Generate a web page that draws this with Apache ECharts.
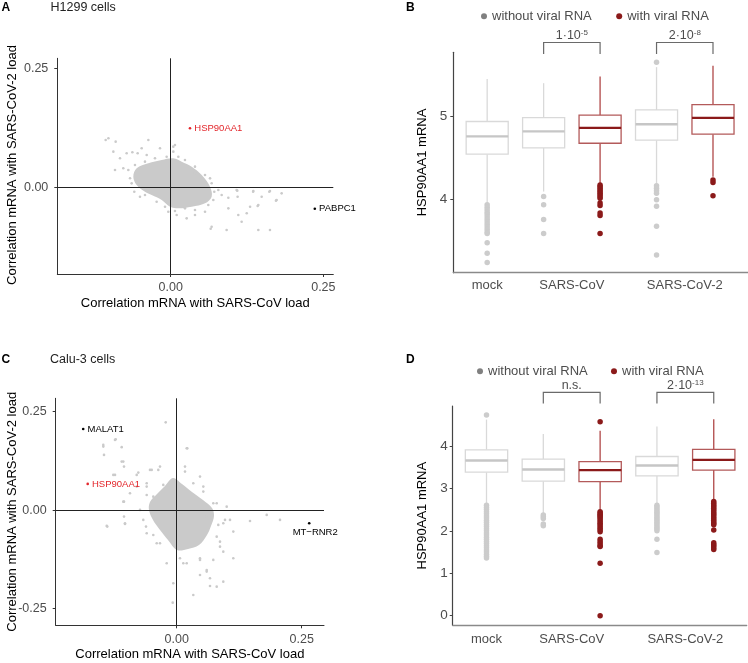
<!DOCTYPE html>
<html><head><meta charset="utf-8">
<script src="https://cdn.jsdelivr.net/npm/echarts@6/dist/echarts.min.js"></script>
<style>html,body{margin:0;padding:0;background:#fff}#c{width:748px;height:663px}</style>
</head><body><div id="c"></div>
<script>
// ---------- Panel A: H1299 scatter ----------
const titleA = 'H1299 cells';
const coreA = [[-0.0557,0.0399],[-0.0367,0.0504],[-0.0147,0.0574],[0.0043,0.0609],[0.018,0.0538],[0.0344,0.0433],[0.0508,0.0258],[0.0644,0.0013],[0.0671,-0.0197],[0.0562,-0.0336],[0.0344,-0.0407],[0.0124,-0.0441],[-0.0011,-0.0407],[-0.0147,-0.0267],[-0.0311,-0.0162],[-0.0421,-0.0092],[-0.0557,0.0048],[-0.0612,0.0223]];
const pointsA = [[-0.102,0.103],[-0.1065,0.0994],[-0.0901,0.0959],[-0.0366,0.0994],[0.007,0.0889],[0.0043,0.0749],[-0.0939,0.0749],[-0.083,0.0609],[-0.0721,0.0714],[-0.0628,0.0735],[-0.0541,0.0714],[-0.0475,0.0819],[-0.0393,0.0679],[-0.0175,0.0819],[-0.0912,0.0363],[-0.0776,0.0399],[-0.0694,0.0363],[-0.0596,-0.0092],[-0.0503,-0.0197],[-0.0421,-0.0162],[0.0398,0.0293],[0.0644,0.0188],[0.078,-0.0057],[0.0835,-0.0162],[0.0944,-0.0218],[0.108,-0.0057],[0.1096,-0.0197],[0.1353,-0.0078],[0.149,-0.0197],[0.1626,-0.0078],[0.1817,-0.0127],[0.1735,-0.0267],[0.13,-0.0407],[0.1435,-0.0372],[0.0944,-0.0442],[0.1107,-0.0582],[0.1162,-0.0722],[0.0671,-0.0827],[0.0916,-0.0897],[0.1435,-0.0897],[0.1626,-0.0897],[0.0398,-0.0582],[0.0262,-0.0652],[0.0562,-0.0512],[0.0234,-0.0442],[-0.0039,-0.0512],[0.0098,-0.0582],[0.135,-0.0092],[0.1615,-0.0092],[0.1724,-0.028],[0.1424,-0.0393],[0.1245,-0.0546],[0.109,-0.007],[0.0655,-0.087],[-0.0666,0.0189],[-0.0639,0.0083],[-0.023,-0.0302],[-0.0093,-0.0407],[0.007,-0.0499],[0.0398,-0.0477],[0.0616,-0.0372],[0.0698,-0.0267],[0.0714,-0.0092],[0.0671,0.0084],[0.0562,0.0259],[0.0398,0.0434],[0.0234,0.0574],[0.0125,0.0643],[-0.0066,0.0643],[-0.0257,0.0609],[-0.0421,0.0539],[-0.0585,0.0469],[0.0043,0.0854]];
const genesA = ['HSP90AA1','PABPC1'];
const genesAX = [0.0316, 0.236];
const genesAY = [0.124, -0.045];

// ---------- Panel C: Calu-3 scatter ----------
const titleC = 'Calu-3 cells';
const coreC = [[-0.0074,0.082],[0.0106,0.0668],[0.0306,0.0464],[0.0526,0.0261],[0.0706,0.0058],[0.0746,-0.0145],[0.0686,-0.0398],[0.0606,-0.0627],[0.0446,-0.0881],[0.0226,-0.0982],[0.0006,-0.1008],[-0.0174,-0.0754],[-0.0334,-0.05],[-0.0474,-0.0246],[-0.0554,0.0008],[-0.0534,0.0211],[-0.0394,0.0414],[-0.0234,0.0617]];
const pointsC = [[-0.022,0.223],[0.0212,0.157],[-0.122,0.18],[-0.1468,0.1614],[-0.11,0.16],[-0.1454,0.1404],[-0.1068,0.1234],[-0.1234,0.0896],[-0.1054,0.1107],[-0.08,0.0896],[-0.05,0.1023],[-0.0334,0.1107],[0.0166,0.1107],[-0.0934,0.0431],[-0.1054,0.0218],[-0.1054,-0.0162],[-0.1034,-0.033],[-0.1388,-0.0416],[-0.0734,0.0008],[-0.0614,-0.0416],[-0.0668,-0.0246],[0.1132,-0.0543],[0.1466,-0.0272],[0.18,-0.0119],[0.2066,-0.0246],[0.1132,-0.1218],[0.06,-0.1515],[0.0666,-0.1726],[0.08,-0.1939],[0.0666,-0.1921],[0.0332,-0.215],[-0.008,-0.2345],[0.02,-0.1345],[0.0466,-0.1261],[0.0866,-0.0924],[0.08,-0.067],[0.0932,-0.033],[0.0732,0.0178],[0.0532,0.0599],[0.0466,0.0853],[-0.06,0.0599],[-0.04,-0.0838],[-0.02,-0.1345],[-0.0068,-0.1853],[0.06,-0.0162],[-0.14,-0.0398],[-0.1034,-0.0348],[-0.06,-0.0584],[-0.0468,-0.0627],[-0.0334,-0.0838],[0.0932,-0.1051],[0.0732,-0.1261],[0.0466,-0.1642],[0.06,-0.1558],[0.0932,-0.1812],[0.0132,-0.1345],[0.0066,-0.1218],[0.0466,-0.1218],[0.0866,-0.0797],[0.0832,-0.0373],[0.0966,-0.0246],[0.1066,-0.0246],[-0.1468,0.1657],[-0.1234,0.1784],[-0.11,0.1234],[-0.0768,0.0955],[-0.0534,0.1023],[-0.0368,0.1023],[0.02,0.1574],[0.0166,0.098],[-0.1268,0.0896],[-0.1068,0.0218],[-0.06,0.0388],[-0.0468,0.0345],[-0.08,0.0599],[-0.06,0.0685],[-0.0268,0.0642],[0.0332,0.0685],[0.0532,0.0472],[0.08,0.0178],[0.1,0.0091]];
const genesC = ['MALAT1','HSP90AA1','MT−RNR2'];
const genesCX = [-0.187, -0.178, 0.265];
const genesCY = [0.206, 0.0668, -0.033];

// ---------- Boxplots (B and D) ----------
const categories = ['mock','SARS-CoV','SARS-CoV-2'];
const categoryPos = [1, 2.5, 4.5];
const groupNames = ['without viral RNA','with viral RNA'];
const boxPos = [1, 2, 3, 4, 5];
const boxGroup = [0, 0, 1, 0, 1];
// [lower whisker, Q1, median, Q3, upper whisker]
const statsB = [[3.95,4.543,4.76,4.94,5.455],[4.09,4.62,4.82,4.988,5.405],[4.18,4.676,4.863,5.017,5.486],[4.18,4.713,4.907,5.08,5.6],[4.27,4.786,4.984,5.146,5.616]];
const outWithoutB = [[1,3.93],[1,3.9],[1,3.87],[1,3.84],[1,3.81],[1,3.78],[1,3.75],[1,3.72],[1,3.69],[1,3.66],[1,3.63],[1,3.6],[1,3.58],[1,3.47],[1,3.34],[1,3.23],[2,4.03],[2,3.93],[2,3.75],[2,3.58],[4,5.66],[4,4.16],[4,4.13],[4,4.1],[4,4.07],[4,3.99],[4,3.91],[4,3.67],[4,3.32]];
const outWithB = [[3,4.17],[3,4.15],[3,4.13],[3,4.11],[3,4.09],[3,4.07],[3,4.05],[3,4.03],[3,4.01],[3,3.95],[3,3.92],[3,3.83],[3,3.8],[3,3.58],[5,4.23],[5,4.2],[5,4.04]];
const bracketsB = [[2,3,5.899,5.758],[4,5,5.899,5.758]];
const bracketBaseB = ['1·10','2·10'];
const bracketExpB = ['-5','-8'];

const statsD = [[2.62,3.38,3.656,3.908,4.62],[2.42,3.17,3.443,3.689,4.28],[2.47,3.16,3.43,3.632,4.356],[2.62,3.295,3.538,3.75,4.46],[2.7,3.43,3.672,3.92,4.63]];
const outWithoutD = [[1,4.73],[1,2.6],[1,2.55],[1,2.5],[1,2.45],[1,2.4],[1,2.35],[1,2.3],[1,2.25],[1,2.2],[1,2.15],[1,2.1],[1,2.05],[1,2.0],[1,1.95],[1,1.9],[1,1.85],[1,1.8],[1,1.75],[1,1.7],[1,1.65],[1,1.6],[1,1.55],[1,1.5],[1,1.45],[1,1.4],[1,1.36],[2,2.37],[2,2.33],[2,2.29],[2,2.16],[2,2.12],[4,2.6],[4,2.56],[4,2.52],[4,2.48],[4,2.44],[4,2.4],[4,2.36],[4,2.32],[4,2.28],[4,2.24],[4,2.2],[4,2.16],[4,2.12],[4,2.08],[4,2.04],[4,2.0],[4,1.8],[4,1.486]];
const outWithD = [[3,4.568],[3,2.45],[3,2.42],[3,2.39],[3,2.36],[3,2.33],[3,2.3],[3,2.26],[3,2.22],[3,2.18],[3,2.14],[3,2.1],[3,2.06],[3,2.02],[3,1.98],[3,1.8],[3,1.75],[3,1.7],[3,1.65],[3,1.63],[3,1.236],[3,0],[5,2.69],[5,2.65],[5,2.61],[5,2.57],[5,2.53],[5,2.49],[5,2.45],[5,2.41],[5,2.37],[5,2.33],[5,2.29],[5,2.25],[5,2.21],[5,2.17],[5,2.14],[5,2.02],[5,1.72],[5,1.68],[5,1.64],[5,1.6],[5,1.56]];
const bracketsD = [[2,3,5.262,5.0],[4,5,5.262,5.0]];
const bracketBaseD = ['n.s.','2·10'];
const bracketExpD = ['','-13'];

const ticksA_X = [0, 0.25], ticksA_Y = [0, 0.25];
const ticksC_X = [0, 0.25], ticksC_Y = [-0.25, 0, 0.25];
const ticksB_Y = [4, 5], ticksD_Y = [0, 1, 2, 3, 4];
const nameX = 'Correlation mRNA with SARS-CoV load';
const nameY = 'Correlation mRNA with SARS-CoV-2 load';

// ---------- styles ----------
const FONT = 'Liberation Sans';
const RED = '#8b1a1a';
const LABEL_RED = '#e3262b';
const CLOUD = '#cacaca';
const BOX_W = 0.745;
const boxStyle = [
  {stroke:'#d9d9d9', med:'#c6c6c6', whisk:'#d9d9d9'},
  {stroke:'#b35a5a', med:'#8b1a1a', whisk:'#b04848'}
];

function boxData(stats){ return stats.map((s,i)=>[boxPos[i], s[0], s[1], s[2], s[3], s[4], boxGroup[i]]); }
function boxRender(params, api){
  const pos = api.value(0);
  const st = boxStyle[api.value(6)];
  const lo = api.coord([pos, api.value(1)]);
  const q1 = api.coord([pos, api.value(2)]);
  const md = api.coord([pos, api.value(3)]);
  const q3 = api.coord([pos, api.value(4)]);
  const hi = api.coord([pos, api.value(5)]);
  const half = api.size([BOX_W, 0])[0] / 2;
  const cx = lo[0];
  return {type:'group', children:[
    {type:'line', shape:{x1:cx,y1:hi[1],x2:cx,y2:q3[1]}, style:{stroke:st.whisk,lineWidth:1.3}},
    {type:'line', shape:{x1:cx,y1:q1[1],x2:cx,y2:lo[1]}, style:{stroke:st.whisk,lineWidth:1.3}},
    {type:'rect', shape:{x:cx-half,y:q3[1],width:2*half,height:q1[1]-q3[1]}, style:{fill:'#fff',stroke:st.stroke,lineWidth:1.3}},
    {type:'line', shape:{x1:cx-half,y1:md[1],x2:cx+half,y2:md[1]}, style:{stroke:st.med,lineWidth:2.4}}
  ]};
}
function bracketRender(bases, exps){
  return function(params, api){
    const i = params.dataIndex;
    const t1 = api.coord([api.value(0), api.value(2)]);
    const t2 = api.coord([api.value(1), api.value(2)]);
    const b1 = api.coord([api.value(0), api.value(3)]);
    const b2 = api.coord([api.value(1), api.value(3)]);
    const txt = exps[i] ? bases[i] + '{s|' + exps[i] + '}' : bases[i];
    return {type:'group', children:[
      {type:'polyline', shape:{points:[b1,t1,t2,b2]}, style:{stroke:'#6a6a6a',lineWidth:1.2,fill:null}},
      {type:'text', x:(t1[0]+t2[0])/2, y:t1[1]-6.5, style:{text:txt, align:'center', verticalAlign:'middle', fill:'#4d4d4d', fontSize:12.5, fontFamily:FONT, lineHeight:14, rich:{s:{fontSize:8, verticalAlign:'top', fill:'#4d4d4d', fontFamily:FONT, lineHeight:9}}}}
    ]};
  };
}
function polyRender(pts){
  return function(params, api){
    if (params.dataIndex !== 0) return null;
    return {type:'polygon', shape:{points: pts.map(p=>api.coord(p)), smooth:0.35}, style:{fill:CLOUD}};
  };
}
const fmt2 = v => v.toFixed(2);

function scatterAxes(gi, xmin, xmax, ymin, ymax, xt, yt, xGap, xMargin, yMargin){
  return {
    x:{gridIndex:gi, type:'value', min:xmin, max:xmax, name:nameX, nameLocation:'middle', nameGap:xGap,
       nameTextStyle:{fontSize:13,color:'#000',fontFamily:FONT},
       axisLine:{show:true,onZero:false,lineStyle:{color:'#333',width:1}},
       axisTick:{show:true,customValues:xt,length:3,lineStyle:{color:'#333'}},
       axisLabel:{customValues:xt,formatter:fmt2,fontSize:12.5,color:'#4d4d4d',margin:xMargin,fontFamily:FONT},
       splitLine:{show:false}},
    y:{gridIndex:gi, type:'value', min:ymin, max:ymax,
       axisLine:{show:true,onZero:false,lineStyle:{color:'#333',width:1}},
       axisTick:{show:true,customValues:yt,length:3,lineStyle:{color:'#333'}},
       axisLabel:{customValues:yt,formatter:fmt2,fontSize:12.5,color:'#4d4d4d',margin:yMargin,fontFamily:FONT},
       splitLine:{show:false}}
  };
}
function boxAxes(gi, xmin, xmax, ymin, ymax, yt, yMargin, yGap, xMargin){
  return {
    x:{gridIndex:gi, type:'value', min:xmin, max:xmax,
       axisLine:{show:true,onZero:false,lineStyle:{color:'#8a8a8a',width:1.3}},
       axisTick:{show:false},
       axisLabel:{customValues:categoryPos, formatter:v=>categories[categoryPos.indexOf(v)], fontSize:13, color:'#4d4d4d', margin:xMargin, fontFamily:FONT},
       splitLine:{show:false}},
    y:{gridIndex:gi, type:'value', min:ymin, max:ymax, name:'HSP90AA1 mRNA', nameLocation:'middle', nameGap:yGap,
       nameTextStyle:{fontSize:13,color:'#000',fontFamily:FONT},
       axisLine:{show:true,onZero:false,lineStyle:{color:'#444',width:1.2}},
       axisTick:{show:true,customValues:yt,length:3,lineStyle:{color:'#444'}},
       axisLabel:{customValues:yt, fontSize:13.5, color:'#4d4d4d', margin:yMargin, fontFamily:FONT},
       splitLine:{show:false}}
  };
}
const aA = scatterAxes(0, -0.1857, 0.2663, -0.1821, 0.271, ticksA_X, ticksA_Y, 23, 7, 9);
const aC = scatterAxes(1, -0.242, 0.2946, -0.292, 0.284, ticksC_X, ticksC_Y, 23, 7.5, 9);
const aB = boxAxes(2, 0.4, 5.62, 3.105, 5.78, ticksB_Y, 6, 24, 6.5);
const aD = boxAxes(3, 0.405, 5.58, -0.226, 4.94, ticksD_Y, 5, 24, 7.5);

function geneSeries(gi, names, xs, ys, special){
  return {type:'scatter', xAxisIndex:gi, yAxisIndex:gi, z:8, symbolSize:2.6, silent:true,
    data: names.map((g,i)=>{
      const col = g === 'HSP90AA1' ? LABEL_RED : '#000';
      const lab = {show:true, formatter:g, position:'right', distance:3, color:col, fontSize:9.5, fontFamily:FONT};
      if (special && special[g]) Object.assign(lab, special[g]);
      return {value:[xs[i], ys[i]], itemStyle:{color:col, opacity:1}, label:lab};
    })};
}
function cloudSeries(gi, core, pts){
  return [
    {type:'custom', xAxisIndex:gi, yAxisIndex:gi, z:2, silent:true, data:core, renderItem:polyRender(core)},
    {type:'scatter', xAxisIndex:gi, yAxisIndex:gi, z:3, silent:true, symbolSize:2.6, itemStyle:{color:CLOUD, opacity:1}, data:pts,
     markLine:{silent:true, symbol:['none','none'], label:{show:false}, lineStyle:{color:'#222',width:1,type:'solid'}, data:[{xAxis:0},{yAxis:0}], animation:false}}
  ];
}
function boxSeries(gi, stats, outWo, outW, brackets, bases, exps){
  return [
    {type:'custom', xAxisIndex:gi, yAxisIndex:gi, z:2, silent:true, data:boxData(stats), renderItem:boxRender},
    {type:'scatter', name:groupNames[0], xAxisIndex:gi, yAxisIndex:gi, z:4, silent:true, symbolSize:5.5, itemStyle:{color:'#cccccc', opacity:1}, data:outWo},
    {type:'scatter', name:groupNames[1], xAxisIndex:gi, yAxisIndex:gi, z:4, silent:true, symbolSize:5.5, itemStyle:{color:RED, opacity:1}, data:outW},
    {type:'custom', xAxisIndex:gi, yAxisIndex:gi, z:5, silent:true, clip:false, data:brackets, renderItem:bracketRender(bases, exps)}
  ];
}
function legendAt(left, top, gap){
  return {left:left, top:top, padding:0, orient:'horizontal', icon:'circle', itemWidth:6, itemHeight:6, itemGap:gap, selectedMode:false,
    textStyle:{fontSize:13, color:'#4d4d4d', fontFamily:FONT},
    data:[{name:groupNames[0], itemStyle:{color:'#808080', opacity:1}},{name:groupNames[1], itemStyle:{color:RED, opacity:1}}]};
}
function txt(x, y, s, bold, size, color, rot){
  return {type:'text', x:x, y:y, rotation:rot||0, silent:true, z:10, style:{text:s, fill:color||'#222', font:(bold?'bold ':'')+size+'px "'+FONT+'"', align:rot?'center':'left', verticalAlign:'middle'}};
}

const option = {
  animation:false,
  backgroundColor:'#fff',
  textStyle:{fontFamily:FONT},
  grid:[
    {left:57.3, top:58.3, width:276, height:215.7},
    {left:55.7, top:398.3, width:268.3, height:227},
    {left:453.3, top:52.3, width:294.7, height:220.4},
    {left:452.7, top:406, width:294, height:219.3}
  ],
  xAxis:[aA.x, aC.x, aB.x, aD.x],
  yAxis:[aA.y, aC.y, aB.y, aD.y],
  legend:[legendAt(481, 9.7, 24.5), legendAt(477, 364.7, 23.3)],
  graphic:[
    txt(1.5, 7.5, 'A', true, 12, '#000'),
    txt(50.5, 7.5, titleA, false, 12.5, '#222'),
    txt(406, 7.5, 'B', true, 12, '#000'),
    txt(1.5, 360, 'C', true, 12, '#000'),
    txt(50, 360, titleC, false, 12.5, '#222'),
    txt(406, 359.5, 'D', true, 12, '#000'),
    txt(12.5, 165, nameY, false, 13, '#000', Math.PI/2),
    txt(12, 511.8, nameY, false, 13, '#000', Math.PI/2)
  ],
  series:[].concat(
    cloudSeries(0, coreA, pointsA),
    [geneSeries(0, genesA, genesAX, genesAY)],
    cloudSeries(1, coreC, pointsC),
    [geneSeries(1, genesC, genesCX, genesCY, {'MT−RNR2':{position:'bottom', distance:3, offset:[6,0]}})],
    boxSeries(2, statsB, outWithoutB, outWithB, bracketsB, bracketBaseB, bracketExpB),
    boxSeries(3, statsD, outWithoutD, outWithD, bracketsD, bracketBaseD, bracketExpD)
  )
};
echarts.init(document.getElementById('c'), null, {renderer:'canvas'}).setOption(option);
</script>
</body></html>
